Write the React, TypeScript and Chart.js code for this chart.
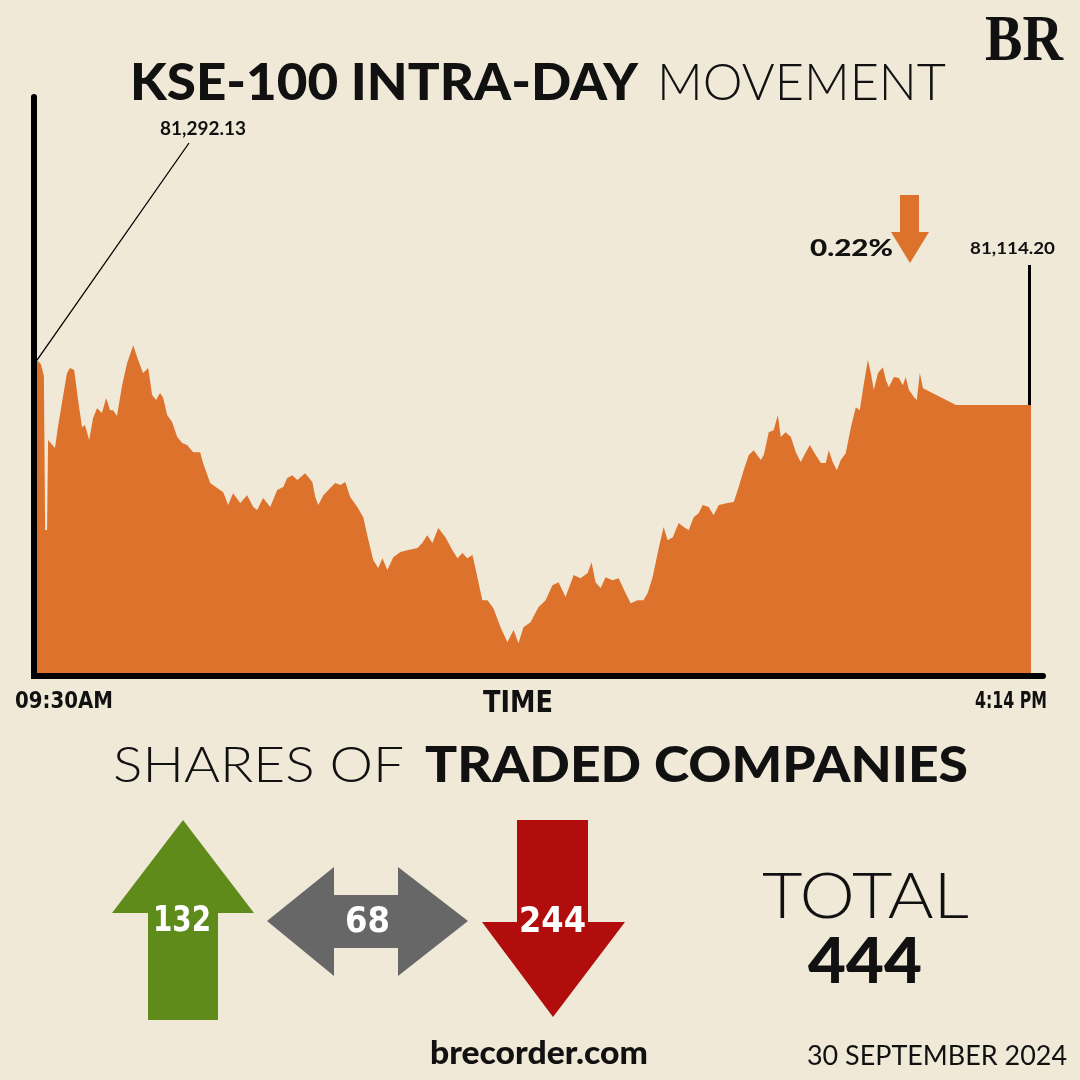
import React, { useEffect, useRef } from "react";
import { Chart, registerables } from "chart.js";

Chart.register(...registerables);

// ---- Data ----
// minutes after 09:30 session open
const TIME_MIN = [
  0, 1.6, 2.8, 3.3, 4.1, 4.5, 7.3, 8.5, 10.2, 12.2, 13.4, 15.1, 16.7, 18.3, 19.5, 21.2, 22.8, 24.4, 26.4, 28.1,
  29.7, 30.9, 32.5, 34.6, 36.6, 39.1, 41.1, 43.1, 45.2, 46.8, 48.4, 50.0, 51.3, 52.9, 54.9, 57.0, 59.0, 61.0,
  63.5, 66.3, 67.5, 70.4, 73.2, 75.7, 77.7, 79.7, 82.6, 85.4, 87.9, 89.5, 91.9, 94.8, 97.6, 100.1, 101.7, 103.7,
  105.8, 109.0, 111.9, 113.1, 114.3, 116.4, 119.2, 121.2, 123.3, 125.3, 127.3, 130.2, 132.6, 134.7, 136.7, 138.7,
  140.4, 142.4, 144.8, 147.7, 150.9, 154.6, 156.6, 158.6, 160.7, 163.1, 166.0, 168.8, 170.9, 172.9, 174.9, 177.0,
  179.0, 181.0, 183.1, 185.5, 188.4, 191.2, 193.7, 195.7, 197.7, 200.6, 203.8, 206.7, 209.5, 212.0, 214.8, 216.9,
  218.1, 220.9, 223.8, 225.4, 227.0, 229.1, 231.1, 233.9, 236.4, 239.2, 241.3, 244.1, 246.5, 248.2, 250.2, 252.7,
  254.7, 256.3, 258.4, 260.8, 262.8, 264.9, 266.9, 268.9, 270.6, 273.0, 275.0, 277.1, 280.7, 283.2, 285.2, 287.2,
  289.3, 291.3, 294.2, 295.4, 297.4, 299.4, 301.1, 302.3, 304.3, 306.4, 308.4, 310.4, 312.5, 314.1, 316.5, 318.6,
  320.6, 321.8, 323.4, 325.1, 326.7, 328.7, 330.8, 332.8, 334.4, 336.1, 337.7, 338.9, 340.1, 341.8, 343.8, 345.0,
  346.2, 348.3, 350.3, 351.9, 353.1, 354.4, 356.4, 357.6, 358.8, 360.1, 373.5, 404,
];

const INDEX_VALUES = [
  81292.13, 81276, 81229, 80620, 80620, 80976, 80944, 81027, 81126, 81241, 81261, 81253, 81134, 81027, 81035,
  80976, 81063, 81102, 81083, 81142, 81094, 81094, 81071, 81193, 81280, 81351, 81292, 81241, 81261, 81154, 81134,
  81162, 81142, 81075, 81047, 80988, 80964, 80956, 80928, 80928, 80885, 80806, 80786, 80770, 80719, 80766, 80727,
  80758, 80711, 80699, 80747, 80711, 80778, 80790, 80826, 80837, 80818, 80845, 80810, 80751, 80719, 80758, 80786,
  80806, 80798, 80810, 80751, 80711, 80671, 80580, 80501, 80470, 80509, 80462, 80513, 80533, 80541, 80549, 80569,
  80600, 80569, 80628, 80592, 80541, 80509, 80529, 80509, 80521, 80434, 80343, 80343, 80311, 80236, 80177, 80225,
  80173, 80236, 80256, 80315, 80343, 80402, 80414, 80355, 80410, 80442, 80430, 80450, 80493, 80414, 80391, 80434,
  80422, 80430, 80371, 80331, 80343, 80343, 80371, 80434, 80549, 80632, 80580, 80592, 80648, 80632, 80620, 80671,
  80687, 80719, 80711, 80679, 80719, 80727, 80731, 80790, 80857, 80917, 80936, 80897, 80917, 81007, 81015, 81075,
  80988, 81007, 80988, 80928, 80889, 80928, 80956, 80917, 80885, 80885, 80936, 80889, 80857, 80897, 80924, 81027,
  81106, 81094, 81201, 81292, 81241, 81174, 81241, 81264, 81213, 81185, 81225, 81221, 81193, 81225, 81174, 81146,
  81134, 81241, 81181, 81114.2, 81114.2,
];

const X_TICK_LABELS = ["09:30AM", "4:14 PM"];
const X_AXIS_TITLE = "TIME";
const SESSION_MINUTES = 404;
const OPEN_LABEL = "81,292.13";
const CLOSE_LABEL = "81,114.20";
const CHANGE_LABEL = "0.22%";
const Y_MIN = 80055;
const Y_MAX = 82340;

const ADVANCED = 132;
const UNCHANGED = 68;
const DECLINED = 244;
const TOTAL = 444;

// ---- Style ----
const BG = "#f0e9d8";
const ORANGE = "#dc722c";
const GREEN = "#5f8b1b";
const GREY = "#676767";
const RED = "#b20d0d";
const HEAD = "Lato, 'Open Sans', sans-serif";
const COND = "'Liberation Sans Narrow', 'DejaVu Sans Condensed', sans-serif";

const annotate = {
  id: "annotate",
  afterDatasetsDraw(chart: any) {
    const { ctx, scales } = chart;
    const x = scales.x;
    const y = scales.y;
    const ca = chart.chartArea;
    ctx.save();
    ctx.strokeStyle = "#000";
    ctx.lineCap = "round";
    // axes
    ctx.lineWidth = 6;
    ctx.beginPath();
    ctx.moveTo(ca.left - 3, 97);
    ctx.lineTo(ca.left - 3, ca.bottom + 3);
    ctx.lineTo(1043, ca.bottom + 3);
    ctx.stroke();
    // leader line to open value
    const x0 = x.getPixelForValue(TIME_MIN[0]);
    const y0 = y.getPixelForValue(INDEX_VALUES[0]);
    ctx.lineWidth = 1.3;
    ctx.lineCap = "butt";
    ctx.beginPath();
    ctx.moveTo(x0, y0);
    ctx.lineTo(189, 143);
    ctx.stroke();
    // close marker line
    const n = TIME_MIN.length - 1;
    const x1 = x.getPixelForValue(TIME_MIN[n]);
    const y1 = y.getPixelForValue(INDEX_VALUES[n]);
    ctx.lineWidth = 3;
    ctx.beginPath();
    ctx.moveTo(x1 - 1.5, y1);
    ctx.lineTo(x1 - 1.5, 265);
    ctx.stroke();
    ctx.restore();
  },
};

export default function App() {
  const ref = useRef<HTMLCanvasElement>(null);
  useEffect(() => {
    if (!ref.current) return;
    const chart = new Chart(ref.current, {
      type: "line",
      data: {
        datasets: [
          {
            data: TIME_MIN.map((t, i) => ({ x: t, y: INDEX_VALUES[i] })),
            fill: "start",
            backgroundColor: ORANGE,
            borderWidth: 0,
            pointRadius: 0,
            tension: 0,
          },
        ],
      },
      options: {
        animation: false,
        responsive: false,
        layout: { padding: { left: 37, right: 49, top: 95, bottom: 407 } },
        scales: {
          x: { type: "linear", display: false, min: 0, max: SESSION_MINUTES },
          y: { type: "linear", display: false, min: Y_MIN, max: Y_MAX },
        },
        plugins: { legend: { display: false }, tooltip: { enabled: false } },
      },
      plugins: [annotate],
    });
    return () => chart.destroy();
  }, []);

  return (
    <div style={{ position: "fixed", left: 0, top: 0, width: 1080, height: 1080, background: BG, overflow: "hidden" }}>
      <canvas ref={ref} width={1080} height={1080} style={{ position: "absolute", left: 0, top: 0 }} />
      <svg width={1080} height={1080} style={{ position: "absolute", left: 0, top: 0 }}>
        <text x={985} y={60} fontFamily="'Liberation Serif', serif" fontWeight={700} fontSize={66} textLength={78} lengthAdjust="spacingAndGlyphs" fill="#111">BR</text>
        <text x={130} y={100} fontFamily={HEAD} fontWeight={900} fontSize={52} textLength={508} lengthAdjust="spacingAndGlyphs" fill="#111">KSE-100 INTRA-DAY</text>
        <text x={657} y={100} fontFamily={HEAD} fontWeight={300} fontSize={52} textLength={289} lengthAdjust="spacingAndGlyphs" fill="#111">MOVEMENT</text>
        <text x={160} y={135} fontFamily={HEAD} fontWeight={700} fontSize={18} textLength={86} lengthAdjust="spacingAndGlyphs" fill="#111">{OPEN_LABEL}</text>
        <text x={810} y={256} fontFamily={HEAD} fontWeight={900} fontSize={22} textLength={83} lengthAdjust="spacingAndGlyphs" fill="#111">{CHANGE_LABEL}</text>
        <polygon points="900,195 919,195 919,232 929,232 910,263 891,232 900,232" fill={ORANGE} />
        <text x={970} y={254} fontFamily={HEAD} fontWeight={700} fontSize={17} textLength={85} lengthAdjust="spacingAndGlyphs" fill="#111">{CLOSE_LABEL}</text>
        <text x={15} y={708} fontFamily={COND} fontWeight={700} fontSize={23} textLength={98} lengthAdjust="spacingAndGlyphs" fill="#111">{X_TICK_LABELS[0]}</text>
        <text x={483} y={712} fontFamily={COND} fontWeight={700} fontSize={31} textLength={70} lengthAdjust="spacingAndGlyphs" fill="#111">{X_AXIS_TITLE}</text>
        <text x={975} y={708} fontFamily={COND} fontWeight={700} fontSize={23} textLength={72} lengthAdjust="spacingAndGlyphs" fill="#111">{X_TICK_LABELS[1]}</text>
        <text x={113} y={782} fontFamily={HEAD} fontWeight={300} fontSize={50} textLength={291} lengthAdjust="spacingAndGlyphs" fill="#111">SHARES OF</text>
        <text x={425} y={782} fontFamily={HEAD} fontWeight={900} fontSize={50} textLength={543} lengthAdjust="spacingAndGlyphs" fill="#111">TRADED COMPANIES</text>
        <polygon points="183,820 254,913 218,913 218,1020 148,1020 148,913 112,913" fill={GREEN} />
        <polygon points="267,921 334,867 334,895 398,895 398,867 468,921 398,976 398,948 334,948 334,976" fill={GREY} />
        <polygon points="517,820 588,820 588,922 625,922 553,1017 482,922 517,922" fill={RED} />
        <text x={153} y={931} fontFamily={COND} fontWeight={700} fontSize={35} textLength={58} lengthAdjust="spacingAndGlyphs" fill="#fff">{String(ADVANCED)}</text>
        <text x={345} y={932} fontFamily={COND} fontWeight={700} fontSize={35} textLength={45} lengthAdjust="spacingAndGlyphs" fill="#fff">{String(UNCHANGED)}</text>
        <text x={519} y={932} fontFamily={COND} fontWeight={700} fontSize={35} textLength={67} lengthAdjust="spacingAndGlyphs" fill="#fff">{String(DECLINED)}</text>
        <text x={762} y={918} fontFamily={HEAD} fontWeight={300} fontSize={64} textLength={207} lengthAdjust="spacingAndGlyphs" fill="#111">TOTAL</text>
        <text x={808} y={983} fontFamily={HEAD} fontWeight={900} fontSize={62} textLength={114} lengthAdjust="spacingAndGlyphs" fill="#111">{String(TOTAL)}</text>
        <text x={430} y={1064} fontFamily={HEAD} fontWeight={900} fontSize={32} textLength={218} lengthAdjust="spacingAndGlyphs" fill="#111">brecorder.com</text>
        <text x={807} y={1065} fontFamily={HEAD} fontWeight={400} fontSize={27} textLength={260} lengthAdjust="spacingAndGlyphs" fill="#111">30 SEPTEMBER 2024</text>
      </svg>
    </div>
  );
}
